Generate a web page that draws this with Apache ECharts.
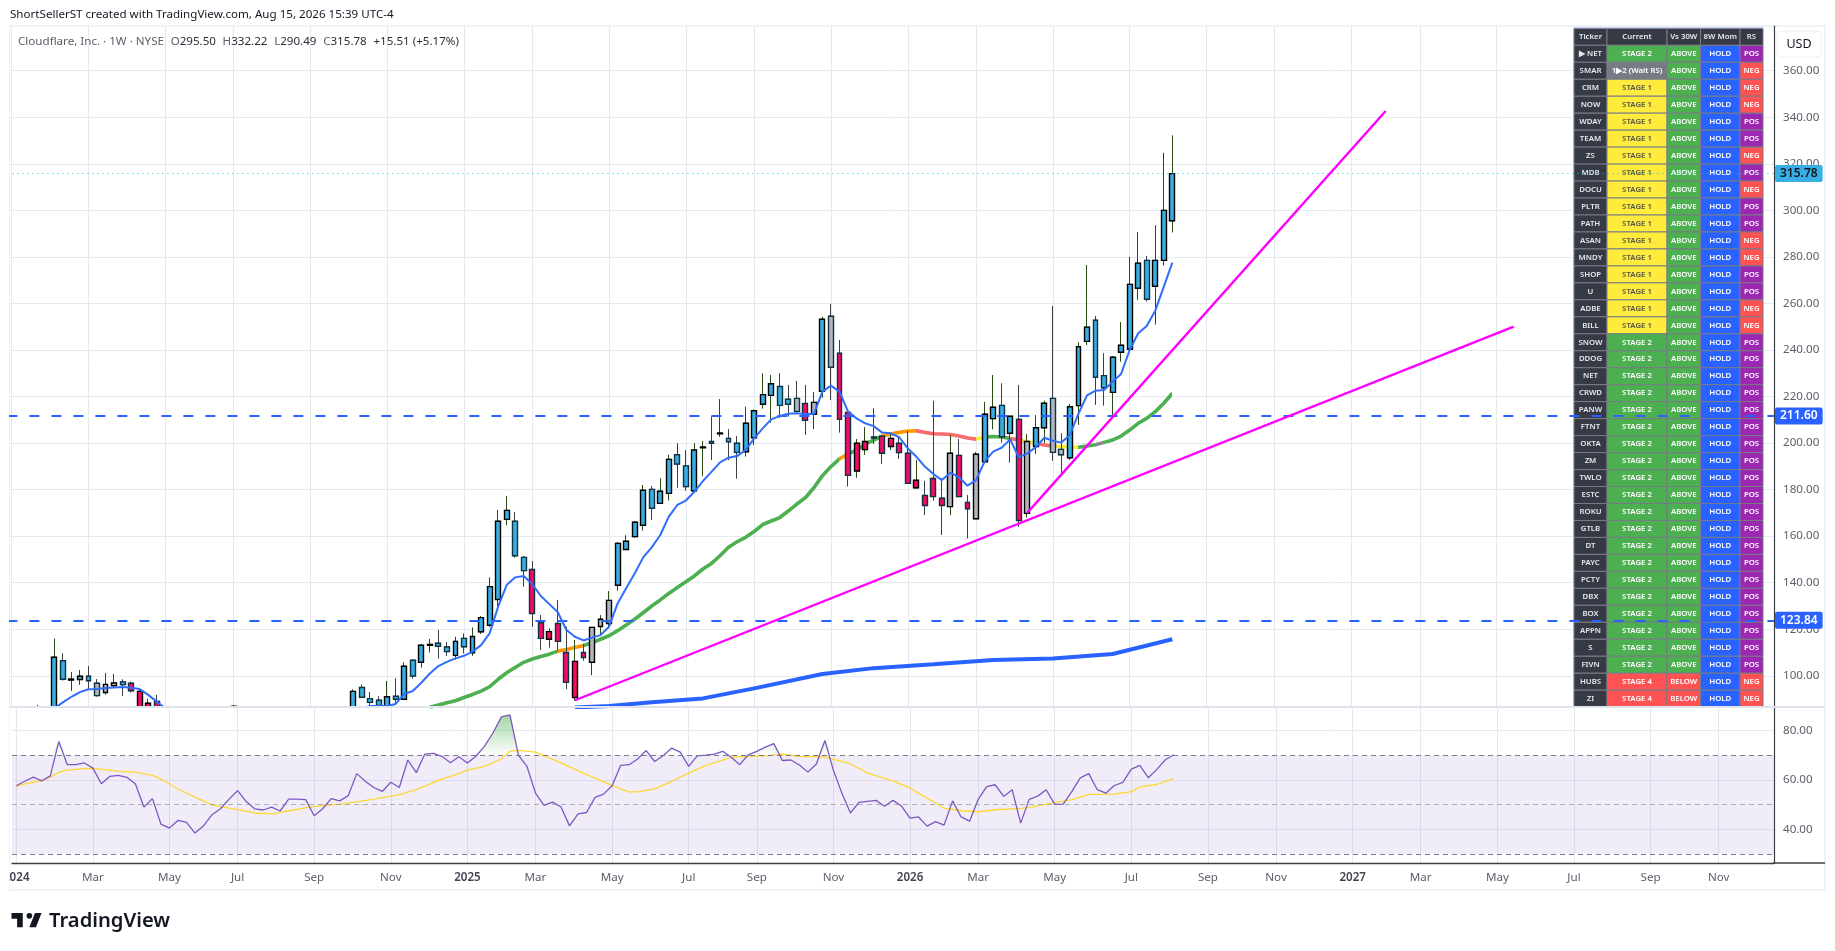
<!DOCTYPE html>
<html>
<head>
<meta charset="utf-8">
<style>html,body{margin:0;padding:0;background:#fff}#c{width:1835px;height:951px}</style>
<script src="https://cdn.jsdelivr.net/npm/echarts@6/dist/echarts.min.js"></script>
</head>
<body>
<div id="c"></div>
<script>
const gap = n => Array(n).fill(null);
const FONT = '"Noto Sans", sans-serif';

// axis marks
const tickSlots  = [0,9,18,26,35,44,53,61,70,79,87,96,105,113,122,131,140,148,157,165,174,183,192,200];
const tickLabels = ['2024','Mar','May','Jul','Sep','Nov','2025','Mar','May','Jul','Sep','Nov','2026','Mar','May','Jul','Sep','Nov','2027','Mar','May','Jul','Sep','Nov'];
const slotCount = 207;
const priceTicks = [100,120,140,160,180,200,220,240,260,280,300,320,340,360];
const rsiTicks = [40,60,80];
const priceMin = 86.6, priceMax = 379.2, rsiMin = 26.4, rsiMax = 89.4;

// weekly candles, slot 0 upward; null = out of the visible price range
const opens = [...gap(3),82,null,
84,106.5,98.2,98.4,99.8,96.8,92.8,95.8,97.4,96.8,85,82,89,...gap(8),86.6,84,...gap(12),
85,95,90.2,89.5,86.9,91.2,89.9,106.7,105.8,113.1,114,112.4,108.8,116.1,109.9,118.9,121.7,132.8,167.2,166.4,150.9,
145.7,122.8,115.7,122.5,110,90.7,110,105.8,121.2,122.5,138.9,154.3,159.8,164.7,180.1,174.1,178.4,195,190.2,179.5,
198,200.7,204,202,199.9,196.3,202.3,216.7,220.5,224.3,218.8,219.2,217,212.4,222.2,254.5,238.6,213.2,188,197.2,202.6,
202.9,198.5,199.9,195.6,180.8,177.5,184.8,176.3,172.7,194.7,174.5,167.5,192,210.5,216.2,204.2,210.2,169.8,198.5,206.6,
219.2,197.3,193.7,216.1,243.7,252.8,229,221.8,239,240.3,266.5,278.5,267.4,278.5,295.5];
const highs = [...gap(3),87.5,null,
116,109.7,101.6,102.5,104.2,98.6,101.2,100.8,98.5,97.5,94.2,90.2,91.8,...gap(8),87.5,87,...gap(12),
94.2,96.3,93,91.3,97.8,99,105.8,106.9,113.7,115.8,119.7,114.5,116.8,118.2,120.8,125.7,142.3,171.2,177.3,170.4,151.5,
149.3,126.1,120.4,132.6,121.1,115.4,113.7,120.8,126.1,136.4,157.5,160.4,166.5,182,181.6,184.9,195,200,197,200,
200.9,211.4,218.9,206,203,215.6,214.5,230,229.3,230,225,226.7,225,222,254.3,259.8,244.3,213.2,201.8,206.9,215,
202.9,204.2,202.7,205.2,192.7,183.8,218.2,184.9,203.5,201.7,177.7,196.2,217.7,229.3,225.7,211.5,225,203.9,212,218.2,
258.9,204.2,216.8,243.3,276.5,254.6,238.6,237.4,252,280,290.7,280.4,293.6,324.7,332.22];
const lows = [...gap(3),81,null,
80,97.9,93.5,96.1,94.2,91,91.9,95.2,91.3,92.8,83,80,82,...gap(8),86,83,...gap(12),
84,90.5,87,86,86.8,88.2,89.6,98.8,103.5,110,107.4,108.5,107,109.6,108.6,118,121,130,164.7,150.8,138.3,
121.1,111.1,112.1,111.1,94.3,89.3,106.5,100.3,117.2,120.7,136.6,154.3,159.4,162.4,167,174.1,175.3,180.8,179.5,178.7,
185.8,192.7,202.7,192.7,184.7,194.2,199.2,214.8,208.8,210.8,211.4,213,203.5,206,219.5,218.5,204.5,181.3,185.1,194.9,199.6,
191,197,193.2,182.7,180.3,169.1,175.2,160.5,169,177,159,167.5,192,205.9,200.2,191.6,164,168,195.3,199.9,
192.4,185.8,192.7,207.8,242.1,216.4,216.1,212.1,234.9,240.3,261.5,260.8,250.9,276.3,290.49];
const closes = [...gap(3),84,null,
108,98.5,98.6,99.8,97.9,91.5,96.3,96.9,96.2,93.6,93.3,88.2,84,...gap(8),86.9,85,...gap(12),
93.3,90.8,88.6,87.3,91,89.9,104.1,99.9,113.1,113.5,112.7,110.4,114.8,112.5,116.9,125,138.3,166.4,171.1,151.6,145.2,
126.8,116.1,119,114.8,97.2,106.2,107.9,120.8,124.3,132.4,156.9,157.8,166,179.7,172,179.3,193,191,181.3,197,
198.3,199.9,204.3,200.6,196,208.5,213.9,220.8,225.5,216.2,216.7,213.6,209.8,217.5,253.2,232.6,210.2,186.1,199.9,200.7,202.2,
195.6,202,195.9,182.7,184,173.2,177,173.2,195.6,177,171.8,195.2,212.4,215.4,202.7,211.5,166.7,200.7,206.6,217.1,
196,195,215.6,241.4,249.8,228.3,223.8,236.9,242,268.2,277.3,261.8,278.5,300,315.78];
// b = blue, g = gray, p = pink, one letter per slot
const tones = 'bbbbb'+'bbbbb'+'ggg'+'b'+'pppp'+'bbbbbbbb'+'gg'+'bbbbbbbbbbbb'+'bbbbbbbbbbbbbbbbbbbbb'+'ppppppp'+'ggg'+'bbbbbbbbbbbbbbbbbbbbb'+'g'+'p'+'g'+'b'+'g'+'pppp'+'b'+'pppppppp'+'g'+'pp'+'g'+'bbbb'+'p'+'g'+'bb'+'gg'+'bbbbbbbbbbbbb';

// moving averages by slot
const ma10 = [...gap(5),86,88.6,91,93,94.2,94.3,94.8,95,95.2,94.9,94.3,91.8,88.9,86,...gap(22),86,87,87,87,87.9,92.2,93.5,97,101,104.2,106,
107.5,108.6,110.4,113.2,118.2,129.7,139,142.3,142.9,139.4,134.3,130.8,127.3,119.7,116.8,115.2,116.4,117.5,121.1,131.1,137.6,144,150.9,155.2,160.5,168.4,173.4,175.3,179.1,
183.7,187.6,191.7,193.7,194.4,197,202,206.3,210.2,211.6,212.6,212.8,212.5,212.5,222.1,224.7,222.1,213.5,210.6,208.5,207.3,204.5,204.2,202.5,197.7,194.2,189.9,186.7,184.1,187.3,185.3,181.7,184.1,192,196.3,
198,201.6,193.9,195.6,198.2,202.3,201,200.2,203.5,212.6,220.5,222.5,222.8,226.4,229.7,240,247.2,250.3,256.9,267.2,277.5];
const ma30 = [...gap(49),86.5,87.5,88.4,
89.3,90.7,92,93.4,95.3,98.5,101.3,103.6,105.8,107.2,108.3,109.3,110.6,111.3,112.2,113,114.2,115.7,117.2,119.4,121.8,124.3,127.1,130,132.6,135.4,137.9,140.4,142.9,145.9,148.3,151.6,155.2,157.6,159.5,
162,165,166.5,168,170.8,173.8,176.5,180.8,186,189.9,193.2,195.3,197,199.5,201.3,203,203.9,204.6,205.2,205.3,204.6,204,203.9,203.7,203,202.2,201.7,
202.5,202.8,202.6,202,201.3,200.6,199.9,199.2,198.7,198.5,198.2,198.2,198.7,199.3,200.3,201.3,203,205.6,208.5,210.6,213.5,217.1,221.4];
const ma200Points = [[66,86.4],[70,87],[75,88.6],[81,90.3],[87,94.6],[95,100.8],[101,103.3],[108,105],[115,106.8],[122,107.4],[129,109.4],[136,115.7]];
const ma30Runs = [[64,'#4CAF50'],[67,'#FF9800'],[97,'#4CAF50'],[98,'#FF9800'],[102,'#4CAF50'],[106,'#FF9800'],[113,'#F96A6A'],[114,'#FFEB3B'],[117,'#4CAF50'],[118,'#F96A6A'],[120,'#FFEB3B'],[122,'#F96A6A'],[125,'#FFEB3B'],[127,'#4CAF50'],[128,'#8A8A8A'],[136,'#4CAF50']];

// trend lines and horizontal levels
const trendA = [[66,89.5],[176,250]];
const trendB = [[119,170],[161,342.7]];
const levelA = 211.60, levelB = 123.84, lastPrice = 315.78;

// RSI and its moving average
const rsi = [57.6,59.4,61.1,59.6,61.6,
75.5,66.1,66.1,66.8,64.7,58.4,61.4,61.8,61,58.3,49,52.4,42.1,40.5,43.6,42.8,38.5,41.4,45.9,48.3,52.2,55.6,51.3,48.3,47.8,49,47.4,52.2,52.2,52,45.5,48.3,52.4,51.5,53.6,62.5,59.4,56.9,55.3,59,56.9,68,62.9,70.4,70.7,69.5,66.9,69.3,66.8,69.5,73.5,78.9,85.4,86.2,69.9,65.4,54.6,49.7,51,49,41.4,46.2,46.8,52.9,54.2,57.6,65.8,
66.1,68.4,71.8,67.4,69.7,72.8,71.2,65.4,69.7,70,70.4,71.5,69.1,66.1,70.1,71.5,73.2,74.6,67.8,68,66,63.1,66.4,75.9,63.8,54.6,46.6,50.9,51.3,51.7,49.3,51.7,49.4,44.5,45,41.3,43.1,41.7,51.5,45,43.3,52,57.2,58,53.3,56,42.5,52.1,53.4,56,50.1,50.2,55.2,60.8,62.5,56,54.6,57.7,59,64.3,65.8,60.8,64.2,68.1,70.1];
const rsiMaPoints = [[0,57.3],[1,58.4],[3,59.6],[4,61.1],[5,63],[6,63.9],[8,64.5],[9,64.6],[11,63.9],[12,63.4],[14,63.1],[16,61.8],[17,60.3],[19,56.3],[21,53],[23,49.9],[25,48.6],[28,46.6],[30,46.2],[32,47.5],[35,49.3],[38,50.2],[39,50.6],[42,52.2],[45,54],[47,56],[50,60.3],[52,62.5],[53,63.9],[55,65.4],[57,68.4],[58,71.5],[59,71.9],[61,71.2],[64,66.8],[67,62.1],[68,60.7],[71,56.3],
[72,55.1],[73,55.1],[75,56.3],[77,59.4],[79,62.7],[81,65.8],[84,69.1],[86,69.5],[88,69.7],[90,70.4],[92,69.5],[95,69.2],[98,66.5],[100,62.7],[103,59.6],[105,56.7],[107,52.6],[109,48.6],[111,47.5],[113,47.1],[115,47.9],[118,48.5],[119,48.9],[121,50.2],[124,52],[126,54.1],[129,54.2],[131,55.2],[132,57.1],[134,58.1],[136,60.6]];

// status table
const tableHead = ['Ticker','Current','Vs 30W','8W Mom','RS'];
const tickers = ['▶ NET','SMAR','CRM','NOW','WDAY','TEAM','ZS','MDB','DOCU','PLTR','PATH','ASAN','MNDY','SHOP','U','ADBE','BILL','SNOW','DDOG','NET','CRWD','PANW','FTNT','OKTA','ZM','TWLO','ESTC','ROKU','GTLB','DT','PAYC','PCTY','DBX','BOX','APPN','S','FIVN','HUBS','ZI'];
const stages = ['STAGE 2','1▶2 (Wait RS)',...Array(15).fill('STAGE 1'),...Array(20).fill('STAGE 2'),'STAGE 4','STAGE 4'];
const vs30 = [...Array(37).fill('ABOVE'),'BELOW','BELOW'];
const mom8 = Array(39).fill('HOLD');
const rsFlags = ['POS','NEG','NEG','NEG','POS','POS','NEG','POS','NEG','POS','POS','NEG','NEG','POS','POS','NEG','NEG',...Array(20).fill('POS'),'NEG','NEG'];

const PAL = {green:'#4CAF50',yellow:'#FFEB3B',red:'#FF5252',gray:'#787B86',blue:'#2962FF',purple:'#9C27B0',dark:'#363A45'};
const BODY = {b:'#38AEE2',g:'#B2B5BE',p:'#F50B66'};
const ink = (o,c) => c>=o ? {wick:'#2A4A10',edge:'#000000'} : {wick:'#3C3F44',edge:'#0E3442'};

// candlesticks are not cut by the pane, so values under the pane floor are held at it
const floor = v => Math.max(v, priceMin);
const wickData=[], bodyData=[];
opens.forEach((o,j)=>{
  const c=closes[j], h=highs[j], l=lows[j], none=['-','-','-','-'];
  if(o==null){ wickData.push(none); bodyData.push(none); return; }
  const col=BODY[tones[j]], k=ink(o,c);
  wickData.push({value:[floor(o),floor(c),floor(l),floor(h)],itemStyle:{color:col,color0:col,borderColor:k.wick,borderColor0:k.wick,borderWidth:1}});
  if(Math.max(o,c)<=priceMin){ bodyData.push(none); return; }
  bodyData.push({value:[floor(o),floor(c),floor(Math.min(o,c)),Math.max(o,c)],itemStyle:{color:col,color0:col,borderColor:k.edge,borderColor0:k.edge,borderWidth:1.4}});
});

const categories = Array(slotCount).fill('');
tickSlots.forEach((s,n)=>{categories[s]=tickLabels[n];});
const hasLabel = (i,v)=>v!=='';

const colX=[1574,1607,1667,1700.5,1740,1763], tableTop=28.5, headH=16.8, rowH=16.97;
const tableGraphics=[];
function cell(x0,x1,y,h,fill,text,color){
  tableGraphics.push({type:'rect',z:1,silent:true,shape:{x:x0,y:y,width:x1-x0,height:h},style:{fill:fill,stroke:'#787B86',lineWidth:1}});
  tableGraphics.push({type:'text',z:1,silent:true,x:(x0+x1)/2,y:y+h/2,style:{text:text,fill:color,font:'600 7.8px '+FONT,align:'center',verticalAlign:'middle'}});
}
tableHead.forEach((t,c)=>cell(colX[c],colX[c+1],tableTop,headH,PAL.dark,t,'#E6E8EE'));
tickers.forEach((t,r)=>{
  const y=tableTop+headH+r*rowH, st=stages[r];
  cell(colX[0],colX[1],y,rowH,PAL.dark,t,'#E6E8EE');
  const stFill = st==='STAGE 1'?PAL.yellow: st==='STAGE 2'?PAL.green: st==='STAGE 4'?PAL.red: PAL.gray;
  cell(colX[1],colX[2],y,rowH,stFill,st,st==='STAGE 1'?'#55554A':'#FFFFFF');
  cell(colX[2],colX[3],y,rowH,vs30[r]==='ABOVE'?PAL.green:PAL.red,vs30[r],'#FFFFFF');
  cell(colX[3],colX[4],y,rowH,PAL.blue,mom8[r],'#FFFFFF');
  cell(colX[4],colX[5],y,rowH,rsFlags[r]==='POS'?PAL.purple:PAL.red,rsFlags[r],'#FFFFFF');
});

const hdrGray='#5d606b', hdrDark='#2a2e39';
const LOGO={x:9.6,y:907.4,scaleX:0.94,scaleY:0.94,silent:true,style:{fill:'#131722'}};
const graphics=[
  {type:'rect',z:0,silent:true,shape:{x:9,y:26,width:1816,height:864},style:{fill:'none',stroke:'#EFF2F7',lineWidth:2}},
  ...tableGraphics,
  {type:'rect',z:1,silent:true,shape:{x:1574,y:27.5,width:189,height:1},style:{fill:'#8FA0D8'}},
  {type:'line',z:10,silent:true,shape:{x1:9,y1:707,x2:1825,y2:707},style:{stroke:'#E0E3EB',lineWidth:2}},
  {type:'line',z:6,silent:true,shape:{x1:1773,y1:863,x2:1825,y2:863},style:{stroke:'#3C3F44',lineWidth:1.4}},
  {type:'rect',z:50,silent:true,shape:{x:0,y:26,width:9,height:870},style:{fill:'#FFFFFF'}},
  {type:'rect',z:5,silent:true,shape:{x:1777,y:31,width:44,height:26,r:4},style:{fill:'#FFFFFF',stroke:'#EEF0F4',lineWidth:1}},
  {type:'text',z:6,silent:true,x:1799,y:44,style:{text:'USD',fill:'#131722',font:'12.5px '+FONT,align:'center',verticalAlign:'middle'}},
  {type:'text',silent:true,x:10,y:15,style:{text:'ShortSellerST created with TradingView.com, Aug 15, 2026 15:39 UTC-4',fill:'#131722',font:'11.6px '+FONT,verticalAlign:'middle'}},
  {type:'text',z:3,silent:true,x:18,y:42,style:{
    text:'{g|Cloudflare, Inc. · 1W · NYSE}  {g|O}{d|295.50}  {g|H}{d|332.22}  {g|L}{d|290.49}  {g|C}{d|315.78}  {d|+15.51 (+5.17%)}',
    verticalAlign:'middle',
    rich:{g:{fill:hdrGray,font:'11.6px '+FONT},d:{fill:hdrDark,font:'11.6px '+FONT}}}},
  {type:'polygon',...LOGO,shape:{points:[[2,6],[14,6],[14,21],[8,21],[8,12],[2,12]]}},
  {type:'polygon',...LOGO,shape:{points:[[28,21],[21,21],[27,6],[34,6]]}},
  {type:'circle',...LOGO,shape:{cx:21,cy:9,r:3}},
  {type:'text',silent:true,x:49,y:921,style:{text:'TradingView',fill:'#131722',font:'600 20.2px '+FONT,verticalAlign:'middle'}}
];

const gridCol='#E6EBF2';
const levelLabel=(bg,fg)=>({show:true,position:'end',distance:1,formatter:p=>p.value.toFixed(2),backgroundColor:bg,color:fg,fontFamily:FONT,fontSize:12,fontWeight:600,padding:[3,5,2,5],borderRadius:2});
const priceAxis=(g,lo,hi,ticks)=>({type:'value',gridIndex:g,position:'right',min:lo,max:hi,
  axisLine:{show:true,lineStyle:{color:'#3C3F44',width:1.2}},
  axisTick:{show:false,customValues:ticks},
  splitLine:{show:true,customValues:ticks,lineStyle:{color:gridCol,width:1}},
  axisLabel:{customValues:ticks,color:'#5d606b',fontSize:11.6,fontFamily:FONT,margin:9,formatter:v=>v.toFixed(2)}});

const option={
  animation:false,
  backgroundColor:'#FFFFFF',
  textStyle:{fontFamily:FONT},
  graphic:graphics,
  grid:[
    {left:7.4,top:26,width:1766.6,height:681},
    {left:7.4,top:707,width:1766.6,height:156}
  ],
  xAxis:[0,1].map(g=>({
    type:'category',gridIndex:g,data:categories,boundaryGap:true,
    axisLine:{show:g===1,lineStyle:{color:'#3C3F44',width:1.4}},
    axisTick:{show:false,alignWithLabel:true,interval:hasLabel},
    splitLine:{show:true,alignWithLabel:true,interval:hasLabel,lineStyle:{color:'#E3E9F0',width:1}},
    axisLabel:g===1?{show:true,interval:hasLabel,margin:9,color:'#5d606b',fontSize:11.6,fontFamily:FONT,
      formatter:v=>/^\d{4}$/.test(v)?'{y|'+v+'}':v,
      rich:{y:{fontWeight:600,color:'#434651',fontSize:11.6,fontFamily:FONT}}}:{show:false}
  })),
  yAxis:[priceAxis(0,priceMin,priceMax,priceTicks),priceAxis(1,rsiMin,rsiMax,rsiTicks)],
  visualMap:[{type:'piecewise',show:false,seriesIndex:3,dimension:0,
    pieces:ma30Runs.map((r,n)=>({gt:n?ma30Runs[n-1][0]:-1,lte:r[0],color:r[1]}))}],
  series:[
    {name:'wicks',type:'candlestick',xAxisIndex:0,yAxisIndex:0,barWidth:5.4,data:wickData,z:3,silent:true},
    {name:'bodies',type:'candlestick',xAxisIndex:0,yAxisIndex:0,barWidth:5.4,data:bodyData,z:4,silent:true},
    {name:'MA10',type:'line',xAxisIndex:0,yAxisIndex:0,data:ma10,showSymbol:false,symbol:'none',lineStyle:{color:'#2F6DFA',width:2},z:5,silent:true},
    {name:'MA30',type:'line',xAxisIndex:0,yAxisIndex:0,data:ma30,showSymbol:false,symbol:'none',lineStyle:{width:3.6},z:2,silent:true},
    {name:'MA200',type:'line',xAxisIndex:0,yAxisIndex:0,data:ma200Points,showSymbol:false,symbol:'none',lineStyle:{color:'#2962FF',width:4},z:2,silent:true},
    {name:'TrendA',type:'line',xAxisIndex:0,yAxisIndex:0,data:trendA,showSymbol:false,symbol:'none',lineStyle:{color:'#FF00FF',width:2.4},z:5,silent:true},
    {name:'TrendB',type:'line',xAxisIndex:0,yAxisIndex:0,data:trendB,showSymbol:false,symbol:'none',lineStyle:{color:'#FF00FF',width:2.4},z:5,silent:true},
    {name:'Levels',type:'line',xAxisIndex:0,yAxisIndex:0,data:[],z:6,silent:true,
     markLine:{silent:true,symbol:'none',animation:false,precision:2,data:[
       {yAxis:levelA,lineStyle:{color:'#2962FF',width:2,type:[10,12]},label:levelLabel('#2962FF','#FFFFFF')},
       {yAxis:levelB,lineStyle:{color:'#2962FF',width:2,type:[10,12]},label:levelLabel('#2962FF','#FFFFFF')},
       {yAxis:lastPrice,lineStyle:{color:'#22B8DC',width:1,type:[1,4]},label:levelLabel('#38AEE2','#131722')}
     ]}},
    {name:'RSI over',type:'line',xAxisIndex:1,yAxisIndex:1,data:rsi.map(v=>Math.max(v,70)),showSymbol:false,symbol:'none',lineStyle:{width:0},z:2,silent:true,
     areaStyle:{origin:70,color:{type:'linear',global:true,x:0,y:715,x2:0,y2:755,colorStops:[{offset:0,color:'rgba(76,175,80,0.75)'},{offset:1,color:'rgba(76,175,80,0.02)'}]}}},
    {name:'RSI',type:'line',xAxisIndex:1,yAxisIndex:1,data:rsi,showSymbol:false,symbol:'none',lineStyle:{color:'#7E57C2',width:1.3},z:4,silent:true,
     markArea:{silent:true,itemStyle:{color:'rgba(126,87,194,0.11)'},data:[[{yAxis:70},{yAxis:30}]]},
     markLine:{silent:true,symbol:'none',animation:false,label:{show:false},data:[
       {yAxis:70,lineStyle:{color:'#787B86',width:1.2,type:[5,4]}},
       {yAxis:50,lineStyle:{color:'rgba(120,123,134,0.55)',width:1.2,type:[5,4]}},
       {yAxis:30,lineStyle:{color:'#787B86',width:1.2,type:[5,4]}}
     ]}},
    {name:'RSI MA',type:'line',xAxisIndex:1,yAxisIndex:1,data:rsiMaPoints,showSymbol:false,symbol:'none',lineStyle:{color:'#FDD835',width:1.3},z:3,silent:true}
  ]
};
const chart=echarts.init(document.getElementById('c'),null,{renderer:'canvas'});
chart.setOption(option);
</script>
</body>
</html>
